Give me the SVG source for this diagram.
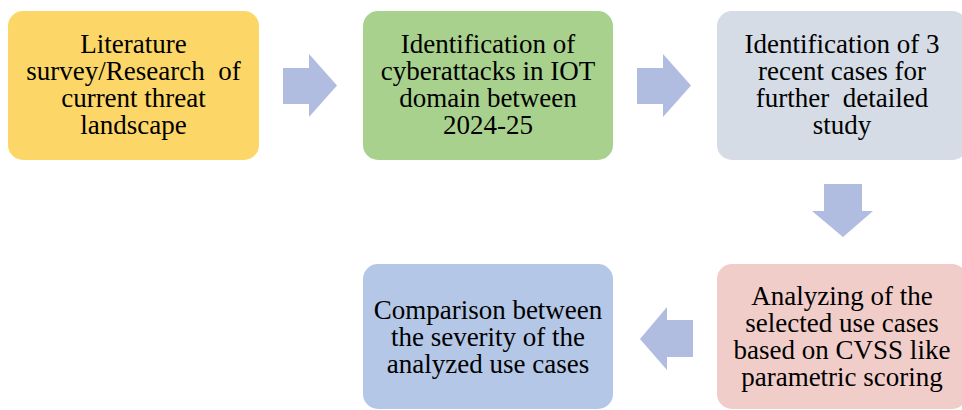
<svg xmlns="http://www.w3.org/2000/svg" width="962" height="410" viewBox="0 0 962 410">
<style>
.box text{font-family:"Liberation Serif","Times New Roman",serif;font-size:27px;fill:#000;text-anchor:middle;white-space:pre}
.arrow{fill:#B0BCE0}
</style>
<rect width="962" height="410" fill="#fff"/>
<g id="connectors">
<polygon class="arrow" points="283,68 309,68 309,54 337,85.5 309,117 309,104 283,104"/>
<polygon class="arrow" points="637,68 663,68 663,54 691,85.5 663,117 663,104 637,104"/>
<polygon class="arrow" points="824,184 862,184 862,211 873,211 843,237 812,211 824,211"/>
<polygon class="arrow" points="693,320 667,320 667,307 640,339 667,370 667,357 693,357"/>
</g>
<g id="node1" class="box">
<rect x="8" y="11" width="251" height="149" rx="15" fill="#FCD767"/>
<text x="133.5" y="53">Literature</text>
<text x="133.5" y="80">survey/Research  of</text>
<text x="133.5" y="107">current threat</text>
<text x="133.5" y="134">landscape</text>
</g>
<g id="node2" class="box">
<rect x="363" y="11" width="250" height="149" rx="15" fill="#A9D18E"/>
<text x="488" y="53">Identification of</text>
<text x="488" y="80">cyberattacks in IOT</text>
<text x="488" y="107">domain between</text>
<text x="488" y="134">2024-25</text>
</g>
<g id="node3" class="box">
<rect x="717" y="11" width="250" height="149" rx="15" fill="#D6DCE5"/>
<text x="842" y="53">Identification of 3</text>
<text x="842" y="80">recent cases for</text>
<text x="842" y="107">further  detailed</text>
<text x="842" y="134">study</text>
</g>
<g id="node4" class="box">
<rect x="717" y="264" width="250" height="145" rx="15" fill="#F0CDC9"/>
<text x="842" y="305">Analyzing of the</text>
<text x="842" y="332">selected use cases</text>
<text x="842" y="359">based on CVSS like</text>
<text x="842" y="386">parametric scoring</text>
</g>
<g id="node5" class="box">
<rect x="363" y="264" width="250" height="145" rx="15" fill="#B4C7E7"/>
<text x="488" y="319">Comparison between</text>
<text x="488" y="346">the severity of the</text>
<text x="488" y="373">analyzed use cases</text>
</g>
</svg>
